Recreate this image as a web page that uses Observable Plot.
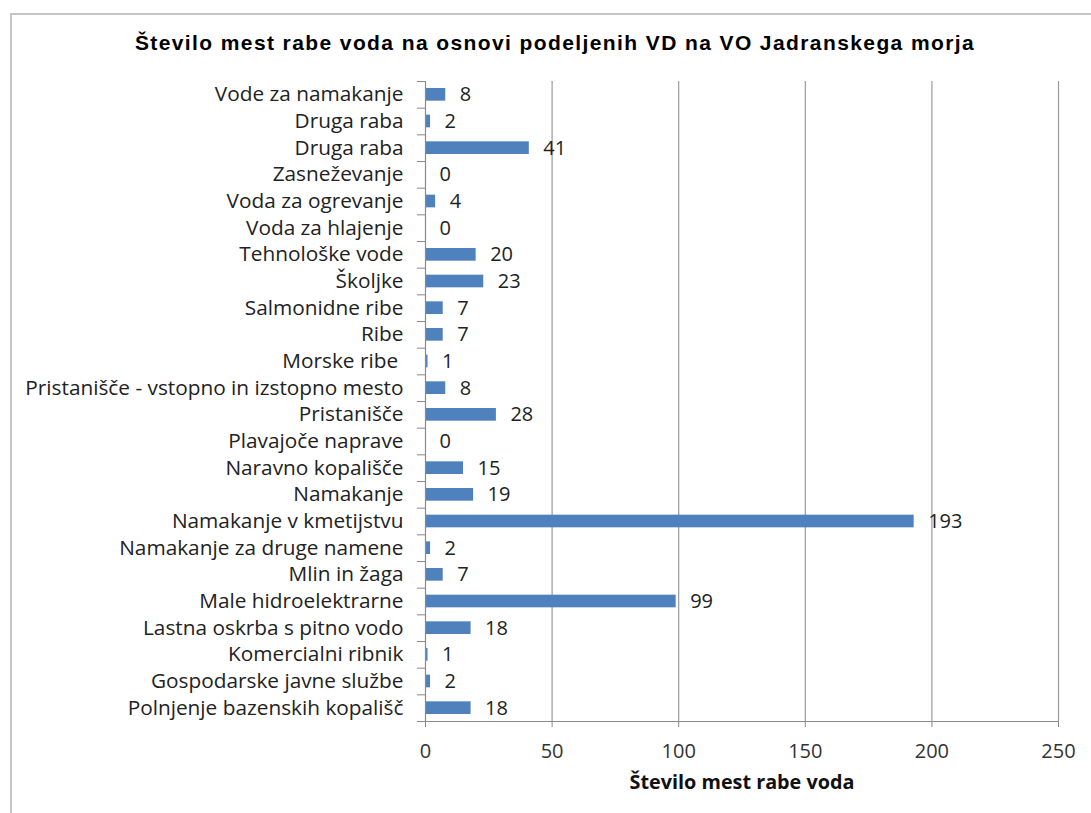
<!DOCTYPE html>
<html>
<head>
<meta charset="utf-8">
<script src="https://cdn.jsdelivr.net/npm/d3@7"></script>
<script src="https://cdn.jsdelivr.net/npm/@observablehq/plot@0.6"></script>
<style>
  html, body { margin: 0; padding: 0; background: #fff; overflow: hidden; }
  #wrap { position: relative; width: 1091px; height: 813px; }
  #frame { position: absolute; left: 10px; top: 13px; width: 1100px; height: 820px; border: 2px solid #c4c4c4; box-sizing: border-box; }
  #title { position: absolute; left: 0; top: 31px; width: 1110px; text-align: center; font-family: "Liberation Sans", Arial, sans-serif; font-weight: bold; font-size: 21px; letter-spacing: 1.4px; color: #000; white-space: nowrap; }
  #chart { position: absolute; left: 0; top: 0; }
</style>
</head>
<body>
<div id="wrap">
  <div id="frame"></div>
  <div id="title">Število mest rabe voda na osnovi podeljenih VD na VO Jadranskega morja</div>
  <div id="chart"></div>
</div>
<script>
const categories = [
  "Vode za namakanje",
  "Druga raba",
  "Druga raba",
  "Zasneževanje",
  "Voda za ogrevanje",
  "Voda za hlajenje",
  "Tehnološke vode",
  "Školjke",
  "Salmonidne ribe",
  "Ribe",
  "Morske ribe ",
  "Pristanišče - vstopno in izstopno mesto",
  "Pristanišče",
  "Plavajoče naprave",
  "Naravno kopališče",
  "Namakanje",
  "Namakanje v kmetijstvu",
  "Namakanje za druge namene",
  "Mlin in žaga",
  "Male hidroelektrarne",
  "Lastna oskrba s pitno vodo",
  "Komercialni ribnik",
  "Gospodarske javne službe",
  "Polnjenje bazenskih kopališč"
];
const values = [8, 2, 41, 0, 4, 0, 20, 23, 7, 7, 1, 8, 28, 0, 15, 19, 193, 2, 7, 99, 18, 1, 2, 18];
const xTicks = [0, 50, 100, 150, 200, 250];
const xLabel = "Število mest rabe voda";

const data = categories.map((c, i) => ({i, c, v: values[i]}));
const n = categories.length;

const font = "'Open Sans', 'Noto Sans', sans-serif";

const chart = Plot.plot({
  width: 1091,
  height: 813,
  marginLeft: 425,
  marginRight: 33,
  marginTop: 81,
  marginBottom: 92,
  style: {fontFamily: font, fontSize: "20px", color: "#222", background: "transparent"},
  x: {domain: [0, 250]},
  y: {domain: [0, n], reverse: true},
  marks: [
    Plot.ruleX(xTicks.filter(d => d > 0), {stroke: "#9a9a9a", strokeWidth: 1.2}),
    Plot.rectX(data, {x1: 0, x2: "v", y1: "i", y2: d => d.i + 1, insetTop: 7, insetBottom: 7, fill: "#4f81bd"}),
    Plot.text(data, {x: "v", y: d => d.i + 0.5, text: d => String(d.v), dx: 14, textAnchor: "start", fontSize: 20, fill: "#222"}),
    Plot.ruleX([0], {stroke: "#8a8a8a", strokeWidth: 1.2}),
    Plot.ruleY([n], {stroke: "#8a8a8a", strokeWidth: 1.2}),
    Plot.axisY({ticks: d3.range(0, n + 1), tickSize: 8, text: null, stroke: "#8a8a8a", label: null}),
    Plot.axisY({ticks: d3.range(0, n).map(i => i + 0.5), tickSize: 0, tickPadding: 22, tickFormat: v => categories[Math.floor(v)], fontSize: 20.8, fill: "#222", label: null}),
    Plot.axisX({ticks: xTicks, tickSize: 6, tickPadding: 16, stroke: "#8a8a8a", fontSize: 20, fill: "#333", label: null}),
    Plot.text([xLabel], {frameAnchor: "bottom", dy: 67, fontWeight: "bold", fontSize: 19.8, fill: "#111"})
  ]
});
document.getElementById("chart").appendChild(chart);
</script>
</body>
</html>
